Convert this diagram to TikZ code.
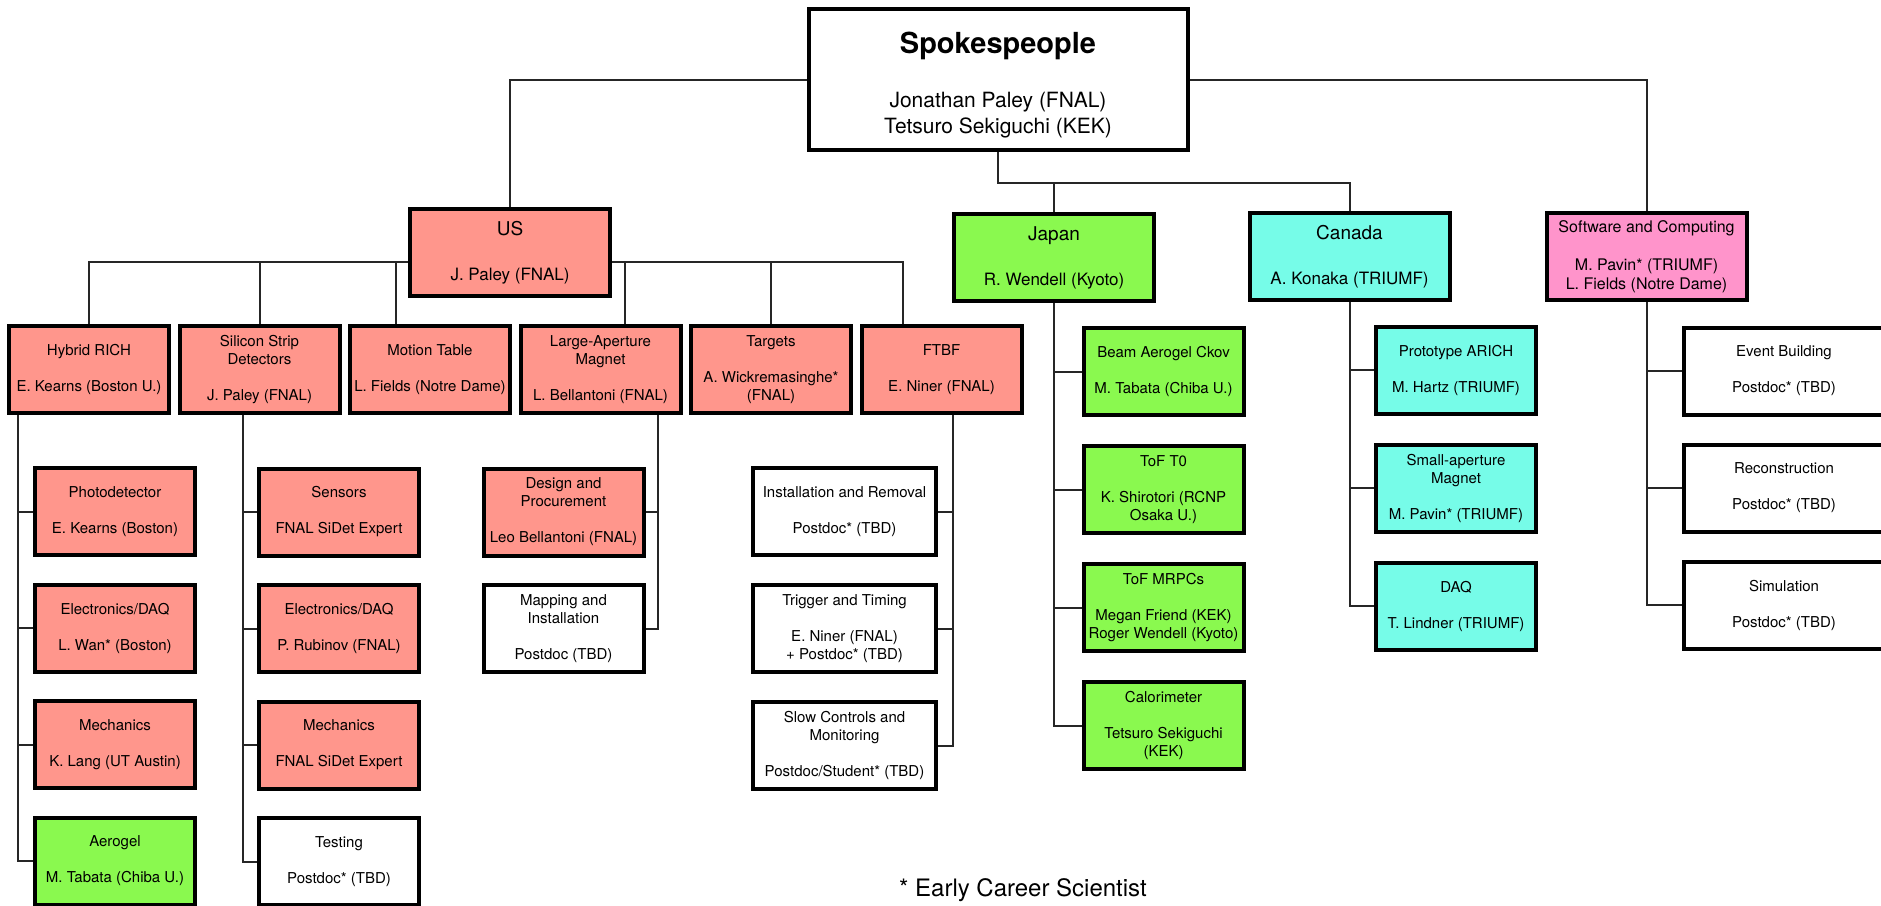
\documentclass[tikz,border=0pt]{standalone}
\usepackage{fontspec}
\setmainfont{TeX Gyre Heros}
\usepackage{tikz}
\usetikzlibrary{positioning}
\definecolor{usred}{HTML}{FF968C}
\definecolor{jpgreen}{HTML}{8AF94F}
\definecolor{cacyan}{HTML}{76FCE8}
\definecolor{swpink}{HTML}{FF94CB}
\tikzset{%
  mybox/.style={draw=black, line width=4pt, fill=white, align=center, inner sep=0pt,
    minimum width=160pt, minimum height=87pt, font=\fontsize{15}{18}\selectfont},
  mytop/.style={mybox, minimum width=200pt, font=\fontsize{17}{22}\selectfont},
  myline/.style={line width=2pt, draw=black!85}
}

\begin{document}
\begin{tikzpicture}[x=1pt, y=-1pt]
  \useasboundingbox[fill=white] (0,0) rectangle (1881,905);
  \node[mybox, minimum width=379pt, minimum height=141pt, font=\fontsize{21}{26}\selectfont] (sp) at (998,79.5)
    {\rule{0pt}{33pt}{\fontsize{29}{34}\selectfont\bfseries Spokespeople}\\[28pt]Jonathan Paley (FNAL)\\Tetsuro Sekiguchi (KEK)};
  \node[mytop, fill=usred] (us) at (510,252.5) {{\fontsize{19}{22}\selectfont US}\\[23pt]J. Paley (FNAL)};
  \node[mytop, fill=jpgreen] (jp) at (1054,257.5) {{\fontsize{19}{22}\selectfont Japan}\\[23pt]R. Wendell (Kyoto)};
  \node[mytop, fill=cacyan] (ca) at (1349.5,256.5) {{\fontsize{19}{22}\selectfont Canada}\\[23pt]A. Konaka (TRIUMF)};
  \node[mytop, fill=swpink, font=\fontsize{16}{19}\selectfont] (sw) at (1646.5,256.5)
    {Software and Computing\\[19pt]M. Pavin* (TRIUMF)\\L. Fields (Notre Dame)};

  \node[mybox, fill=usred] (hr) at (89,369.5) {Hybrid RICH\\[18pt]E. Kearns (Boston U.)};
  \node[mybox, fill=usred, right=6.5pt of hr] (ss) {Silicon Strip\\Detectors\\[18pt]J. Paley (FNAL)};
  \node[mybox, fill=usred, right=6.5pt of ss] (mt) {Motion Table\\[18pt]L. Fields (Notre Dame)};
  \node[mybox, fill=usred, right=6.5pt of mt] (lm) {Large-Aperture\\Magnet\\[18pt]L. Bellantoni (FNAL)};
  \node[mybox, fill=usred, right=6.5pt of lm] (tg) {Targets\\[18pt]A. Wickremasinghe*\\(FNAL)};
  \node[mybox, fill=usred, right=6.5pt of tg] (ft) {FTBF\\[18pt]E. Niner (FNAL)};

  \node[mybox, fill=usred] (pd) at (115,511.5) {Photodetector\\[18pt]E. Kearns (Boston)};
  \node[mybox, fill=usred, below=25.5pt of pd] (he) {Electronics/DAQ\\[18pt]L. Wan* (Boston)};
  \node[mybox, fill=usred, below=25.5pt of he] (hm) {Mechanics\\[18pt]K. Lang (UT Austin)};
  \node[mybox, fill=jpgreen, below=25.5pt of hm] (ag) {Aerogel\\[18pt]M. Tabata (Chiba U.)};

  \node[mybox, fill=usred] (se) at (339,512) {Sensors\\[18pt]FNAL SiDet Expert};
  \node[mybox, fill=usred, below=25.5pt of se] (sd) {Electronics/DAQ\\[18pt]P. Rubinov (FNAL)};
  \node[mybox, fill=usred, below=25.5pt of sd] (sm) {Mechanics\\[18pt]FNAL SiDet Expert};
  \node[mybox, below=25.5pt of sm] (st) {Testing\\[18pt]Postdoc* (TBD)};

  \node[mybox, fill=usred] (dp) at (563.5,512) {Design and\\Procurement\\[18pt]Leo Bellantoni (FNAL)};
  \node[mybox, below=25.5pt of dp] (mp) {Mapping and\\Installation\\[18pt]Postdoc (TBD)};

  \node[mybox, minimum width=183pt] (ir) at (844.5,511.5) {Installation and Removal\\[18pt]Postdoc* (TBD)};
  \node[mybox, minimum width=183pt, below=26pt of ir] (tt) {Trigger and Timing\\[18pt]E. Niner (FNAL)\\+ Postdoc* (TBD)};
  \node[mybox, minimum width=183pt, below=26pt of tt] (sc) {Slow Controls and\\Monitoring\\[18pt]Postdoc/Student* (TBD)};

  \node[mybox, fill=jpgreen] (ba) at (1163.5,371.5) {Beam Aerogel Ckov\\[18pt]M. Tabata (Chiba U.)};
  \node[mybox, fill=jpgreen, below=27pt of ba] (t0) {ToF T0\\[18pt]K. Shirotori (RCNP\\Osaka U.)};
  \node[mybox, fill=jpgreen, below=27pt of t0] (mr) {ToF MRPCs\\[18pt]Megan Friend (KEK)\\Roger Wendell (Kyoto)};
  \node[mybox, fill=jpgreen, below=27pt of mr] (cl) {Calorimeter\\[18pt]Tetsuro Sekiguchi\\(KEK)};

  \node[mybox, fill=cacyan] (pa) at (1456,370) {Prototype ARICH\\[18pt]M. Hartz (TRIUMF)};
  \node[mybox, fill=cacyan, below=27pt of pa] (sa) {Small-aperture\\Magnet\\[18pt]M. Pavin* (TRIUMF)};
  \node[mybox, fill=cacyan, below=27pt of sa] (dq) {DAQ\\[18pt]T. Lindner (TRIUMF)};

  \node[mybox, minimum width=200pt] (eb) at (1784,371) {Event Building\\[18pt]Postdoc* (TBD)};
  \node[mybox, minimum width=200pt, below=26pt of eb] (rc) {Reconstruction\\[18pt]Postdoc* (TBD)};
  \node[mybox, minimum width=200pt, below=26pt of rc] (si) {Simulation\\[18pt]Postdoc* (TBD)};

  \node[anchor=west, inner sep=0pt, font=\fontsize{24}{28}\selectfont] (note) at (899,890) {* Early Career Scientist};

  \draw[myline] (sp.west) -| (us.north);
  \draw[myline] (sp.east) -| (sw.north);
  \coordinate (spjoin) at ([yshift=-31pt]sp.south);
  \draw[myline] (sp.south) -- (spjoin) -| (ca.north);
  \draw[myline] (spjoin) -| (jp.north);

  \coordinate (usbus) at ([yshift=-9.5pt]us.center);
  \draw[myline] (hr.north) |- (usbus -| us.west);
  \draw[myline] (ss.north) |- (usbus -| us.west);
  \draw[myline] ([xshift=-34.5pt]mt.north) |- (usbus -| us.west);
  \draw[myline] ([xshift=24.5pt]lm.north) |- (usbus -| us.east);
  \draw[myline] (tg.north) |- (usbus -| us.east);
  \draw[myline] ([xshift=-39pt]ft.north) |- (usbus -| us.east);

  \foreach \n in {pd,he,hm,ag} \draw[myline] ([xshift=-71pt]hr.south) |- (\n.west);
  \foreach \n in {se,sd,sm,st} \draw[myline] ([xshift=-16.5pt]ss.south) |- (\n.west);
  \foreach \n in {dp,mp} \draw[myline] ([xshift=57.5pt]lm.south) |- (\n.east);
  \foreach \n in {ir,tt,sc} \draw[myline] ([xshift=11pt]ft.south) |- (\n.east);
  \foreach \n in {ba,t0,mr,cl} \draw[myline] (jp.south) |- (\n.west);
  \foreach \n in {pa,sa,dq} \draw[myline] (ca.south) |- (\n.west);
  \foreach \n in {eb,rc,si} \draw[myline] (sw.south) |- (\n.west);
\end{tikzpicture}
\end{document}
